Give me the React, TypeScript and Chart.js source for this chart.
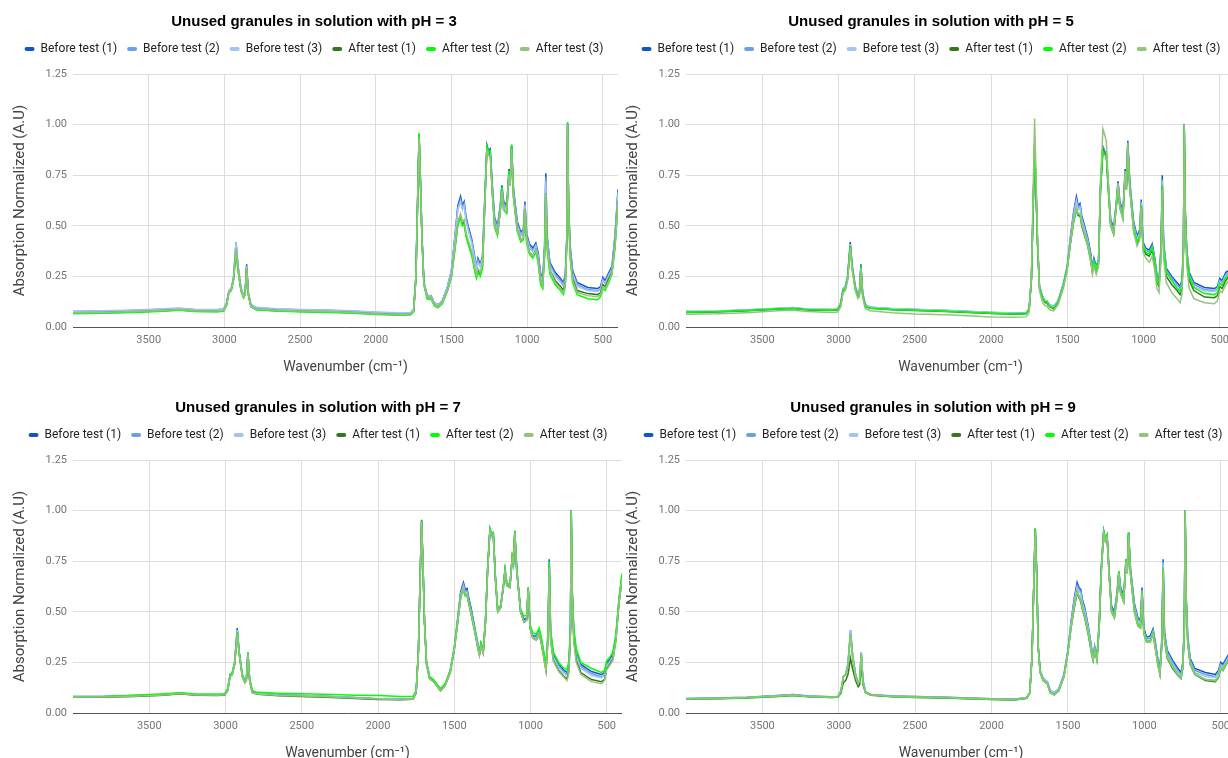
import React, { useEffect, useRef } from 'react';
import { Chart, registerables } from 'chart.js';

Chart.register(...registerables);

// Wavenumber grid (cm-1) shared by every spectrum
const wavenumbers = [
  4000, 3800, 3600, 3400, 3300, 3200, 3050, 3005, 2985, 2970,
  2955, 2940, 2923, 2910, 2890, 2873, 2863, 2853, 2842, 2825,
  2790, 2650, 2500, 2300, 2150, 2000, 1850, 1770, 1750, 1735,
  1724, 1714, 1704, 1695, 1682, 1662, 1645, 1635, 1615, 1590,
  1560, 1526, 1500, 1480, 1458, 1440, 1428, 1416, 1405, 1390,
  1365, 1345, 1335, 1325, 1310, 1295, 1282, 1266, 1255, 1244,
  1230, 1215, 1196, 1178, 1167, 1155, 1135, 1120, 1112, 1103,
  1090, 1065, 1042, 1025, 1015, 1003, 985, 962, 943, 928,
  912, 898, 885, 877, 868, 850, 815, 780, 760, 748,
  738, 733, 726, 716, 700, 670, 600, 535, 515, 500,
  485, 460, 440, 420, 400,
];

const seriesLabels = ['Before test (1)', 'Before test (2)', 'Before test (3)', 'After test (1)', 'After test (2)', 'After test (3)'];
const seriesColors = ['#1155cc', '#6d9eeb', '#a4c2f4', '#38761d', '#00ff00', '#93c47d'];
const xTickValues = [3500, 3000, 2500, 2000, 1500, 1000, 500];
const yTickValues = [0, 0.25, 0.5, 0.75, 1.0, 1.25];
const panelTitles = [
  'Unused granules in solution with pH = 3',
  'Unused granules in solution with pH = 5',
  'Unused granules in solution with pH = 7',
  'Unused granules in solution with pH = 9',
];

// ---------- pH = 3 ----------
const ph3Before1 = [
  .076, .078, .082, .088, .092, .086, .085, .088, .12, .18,
  .19, .24, .42, .30, .19, .155, .17, .31, .17, .11,
  .095, .088, .085, .082, .078, .072, .068, .07, .085, .25,
  .62, .95, .70, .45, .22, .16, .15, .155, .12, .11,
  .13, .20, .28, .43, .60, .645, .60, .62, .55, .50,
  .43, .34, .30, .34, .31, .35, .60, .90, .87, .88,
  .70, .54, .50, .60, .70, .62, .60, .78, .73, .90,
  .68, .52, .47, .48, .62, .46, .41, .39, .415, .37,
  .27, .23, .40, .76, .45, .32, .27, .24, .22, .26,
  .45, 1.01, .60, .40, .28, .22, .195, .19, .20, .245,
  .23, .27, .30, .45, .68,
];
const ph3Before2 = [
  .074, .076, .080, .086, .090, .084, .083, .086, .12, .18,
  .19, .24, .41, .30, .19, .155, .17, .30, .17, .11,
  .093, .086, .083, .080, .076, .070, .066, .068, .083, .25,
  .62, .95, .70, .45, .22, .16, .15, .15, .12, .11,
  .13, .20, .28, .42, .59, .63, .59, .61, .54, .49,
  .42, .33, .30, .33, .30, .34, .59, .89, .87, .87,
  .69, .53, .49, .59, .69, .61, .59, .77, .72, .89,
  .67, .51, .46, .47, .61, .45, .40, .38, .405, .36,
  .26, .22, .39, .74, .44, .31, .26, .23, .21, .25,
  .44, 1.0, .59, .39, .27, .21, .185, .18, .19, .235,
  .22, .26, .29, .44, .67,
];
const ph3Before3 = [
  .078, .080, .084, .090, .094, .088, .087, .090, .12, .18,
  .19, .24, .42, .30, .19, .16, .17, .30, .17, .11,
  .097, .090, .087, .084, .080, .074, .070, .072, .087, .25,
  .61, .94, .69, .45, .22, .16, .15, .155, .12, .11,
  .13, .20, .28, .42, .58, .62, .58, .60, .53, .48,
  .41, .33, .29, .32, .30, .34, .58, .88, .86, .86,
  .68, .52, .48, .58, .68, .60, .58, .76, .71, .88,
  .66, .50, .45, .46, .60, .44, .39, .37, .40, .35,
  .25, .21, .38, .72, .43, .30, .25, .22, .20, .24,
  .43, 1.0, .58, .38, .26, .20, .18, .175, .185, .23,
  .215, .255, .285, .43, .66,
];
const ph3After1 = [
  .068, .070, .074, .080, .085, .078, .077, .080, .11, .17,
  .18, .23, .38, .28, .18, .145, .16, .29, .16, .10,
  .087, .080, .077, .074, .070, .064, .060, .062, .077, .24,
  .60, .95, .69, .44, .21, .15, .14, .145, .11, .10,
  .12, .18, .25, .37, .51, .55, .51, .52, .46, .42,
  .36, .28, .25, .28, .26, .30, .56, .88, .85, .86,
  .66, .50, .46, .57, .68, .58, .57, .76, .70, .89,
  .64, .48, .43, .44, .58, .42, .37, .35, .38, .33,
  .23, .20, .36, .66, .40, .28, .23, .20, .18, .22,
  .42, 1.0, .57, .36, .24, .18, .165, .16, .17, .21,
  .20, .24, .27, .40, .62,
];
const ph3After2 = [
  .066, .068, .072, .078, .083, .076, .075, .078, .11, .17,
  .18, .23, .38, .28, .175, .145, .16, .29, .16, .10,
  .085, .078, .075, .072, .068, .062, .058, .060, .075, .24,
  .61, .96, .70, .44, .21, .14, .135, .14, .105, .095,
  .115, .18, .25, .37, .50, .54, .50, .51, .45, .41,
  .35, .27, .24, .27, .25, .29, .56, .89, .86, .87,
  .66, .49, .45, .57, .69, .58, .56, .77, .70, .90,
  .64, .47, .42, .43, .58, .41, .36, .34, .37, .32,
  .21, .19, .35, .65, .38, .26, .21, .18, .16, .20,
  .42, 1.01, .56, .34, .22, .16, .14, .135, .15, .19,
  .18, .22, .26, .39, .61,
];
const ph3After3 = [
  .070, .072, .076, .082, .087, .080, .079, .082, .11, .17,
  .18, .23, .39, .29, .18, .15, .16, .29, .16, .10,
  .089, .082, .079, .076, .072, .066, .062, .064, .079, .24,
  .60, .94, .69, .44, .21, .15, .14, .145, .11, .10,
  .12, .18, .25, .38, .52, .56, .52, .53, .47, .43,
  .37, .29, .26, .29, .27, .31, .57, .87, .85, .85,
  .66, .50, .46, .57, .67, .58, .57, .75, .70, .88,
  .64, .48, .43, .44, .58, .42, .37, .35, .38, .33,
  .23, .20, .36, .66, .40, .28, .22, .19, .17, .21,
  .42, 1.0, .57, .35, .23, .17, .155, .15, .16, .20,
  .19, .23, .265, .40, .62,
];

// ---------- pH = 5 ----------
const ph5Before1 = [
  .076, .078, .084, .092, .095, .088, .086, .088, .12, .19,
  .20, .25, .42, .30, .20, .16, .17, .31, .17, .11,
  .097, .090, .087, .082, .077, .072, .068, .070, .09, .24,
  .58, .89, .66, .42, .20, .15, .13, .13, .11, .10,
  .13, .21, .30, .44, .57, .645, .60, .61, .55, .51,
  .44, .36, .29, .34, .30, .33, .70, .89, .87, .86,
  .70, .53, .49, .62, .72, .62, .57, .78, .70, .92,
  .72, .52, .45, .48, .63, .42, .39, .38, .41, .35,
  .26, .23, .40, .75, .42, .29, .25, .22, .20, .23,
  .40, 1.0, .58, .38, .27, .22, .195, .19, .20, .24,
  .23, .27, .28, .40, .60,
];
const ph5Before2 = [
  .074, .076, .082, .090, .093, .086, .084, .086, .12, .19,
  .20, .25, .41, .30, .20, .16, .17, .30, .17, .11,
  .095, .088, .085, .080, .075, .070, .066, .068, .088, .24,
  .58, .90, .66, .42, .20, .15, .13, .13, .11, .10,
  .13, .21, .30, .43, .56, .63, .59, .60, .54, .50,
  .43, .35, .29, .33, .29, .33, .69, .89, .87, .86,
  .69, .52, .48, .61, .71, .61, .56, .77, .70, .91,
  .71, .51, .44, .47, .62, .41, .38, .37, .40, .34,
  .25, .22, .39, .73, .41, .28, .24, .21, .19, .22,
  .39, 1.0, .57, .37, .26, .21, .185, .18, .19, .23,
  .22, .26, .27, .39, .59,
];
const ph5Before3 = [
  .077, .079, .085, .093, .096, .089, .087, .089, .12, .19,
  .20, .25, .41, .30, .20, .16, .17, .30, .17, .11,
  .098, .091, .088, .083, .078, .073, .069, .071, .09, .24,
  .57, .88, .65, .42, .20, .15, .13, .13, .11, .10,
  .13, .21, .30, .43, .55, .62, .58, .59, .53, .49,
  .42, .34, .28, .32, .29, .32, .68, .88, .86, .85,
  .68, .51, .47, .60, .70, .60, .55, .76, .69, .90,
  .70, .50, .43, .46, .61, .40, .37, .36, .39, .33,
  .24, .21, .38, .72, .40, .27, .23, .20, .18, .21,
  .38, 1.0, .56, .36, .25, .20, .178, .175, .185, .225,
  .215, .255, .265, .38, .58,
];
const ph5After1 = [
  .072, .074, .080, .088, .091, .084, .082, .084, .11, .18,
  .19, .24, .40, .29, .19, .15, .16, .30, .16, .10,
  .092, .085, .082, .077, .072, .067, .063, .065, .085, .23,
  .58, .90, .66, .41, .19, .14, .12, .12, .10, .09,
  .12, .20, .29, .41, .52, .58, .55, .55, .50, .46,
  .40, .32, .27, .31, .27, .31, .68, .88, .86, .85,
  .67, .50, .46, .60, .70, .59, .54, .76, .68, .90,
  .69, .48, .41, .44, .60, .39, .36, .35, .38, .32,
  .22, .20, .36, .69, .37, .25, .21, .18, .16, .19,
  .37, 1.0, .55, .34, .23, .18, .148, .145, .155, .20,
  .19, .23, .25, .36, .56,
];
const ph5After2 = [
  .073, .075, .081, .089, .092, .085, .083, .085, .11, .18,
  .19, .24, .40, .29, .19, .15, .16, .30, .16, .10,
  .093, .086, .083, .078, .073, .068, .064, .066, .086, .24,
  .59, .90, .66, .41, .19, .14, .125, .125, .10, .095,
  .12, .20, .29, .41, .52, .58, .56, .56, .51, .47,
  .41, .33, .28, .32, .28, .32, .68, .87, .85, .85,
  .67, .50, .46, .60, .69, .59, .54, .76, .68, .89,
  .69, .49, .42, .45, .60, .40, .37, .36, .39, .33,
  .23, .21, .37, .70, .39, .27, .23, .19, .175, .205,
  .38, 1.0, .56, .36, .25, .195, .165, .16, .17, .215,
  .205, .245, .26, .37, .57,
];
const ph5After3 = [
  .063, .065, .071, .080, .083, .076, .072, .074, .10, .17,
  .18, .23, .39, .28, .18, .14, .15, .29, .15, .09,
  .080, .070, .064, .060, .056, .050, .048, .050, .07, .25,
  .66, 1.03, .74, .44, .18, .12, .105, .105, .085, .08,
  .11, .19, .28, .41, .53, .59, .56, .56, .51, .47,
  .40, .32, .26, .30, .26, .30, .72, .98, .95, .92,
  .70, .50, .46, .61, .71, .59, .53, .77, .68, .91,
  .68, .47, .40, .43, .59, .37, .34, .32, .35, .29,
  .19, .17, .33, .68, .34, .22, .17, .14, .12, .16,
  .36, 1.0, .52, .30, .19, .14, .12, .115, .13, .18,
  .17, .21, .23, .34, .54,
];

// ---------- pH = 7 ----------
const ph7Before1 = [
  .082, .082, .086, .092, .099, .092, .091, .093, .12, .19,
  .20, .25, .42, .30, .19, .155, .17, .30, .17, .11,
  .098, .090, .087, .082, .076, .071, .069, .072, .10, .30,
  .66, .95, .70, .45, .25, .18, .165, .16, .14, .115,
  .14, .21, .32, .45, .60, .645, .61, .615, .57, .52,
  .42, .34, .30, .345, .31, .46, .70, .91, .88, .89,
  .67, .51, .53, .63, .71, .64, .63, .77, .74, .90,
  .71, .51, .46, .47, .62, .43, .38, .38, .41, .36,
  .29, .23, .40, .76, .40, .29, .24, .21, .20, .24,
  .42, 1.0, .60, .40, .30, .24, .205, .19, .20, .25,
  .26, .29, .38, .56, .68,
];
const ph7Before2 = [
  .080, .080, .084, .090, .097, .090, .089, .091, .12, .19,
  .20, .25, .41, .30, .19, .155, .17, .30, .17, .11,
  .096, .088, .085, .080, .074, .069, .067, .070, .10, .30,
  .66, .95, .70, .45, .25, .18, .165, .16, .14, .115,
  .14, .21, .32, .45, .59, .635, .60, .605, .56, .51,
  .41, .33, .295, .34, .305, .46, .70, .91, .88, .89,
  .67, .51, .52, .62, .70, .63, .62, .76, .73, .89,
  .70, .50, .45, .46, .61, .42, .37, .37, .40, .35,
  .28, .22, .39, .75, .39, .28, .23, .20, .19, .23,
  .41, 1.0, .59, .39, .29, .23, .195, .18, .19, .24,
  .25, .28, .37, .55, .67,
];
const ph7Before3 = [
  .081, .081, .085, .091, .098, .091, .090, .092, .12, .19,
  .20, .25, .41, .30, .19, .155, .17, .30, .17, .11,
  .097, .089, .086, .081, .075, .070, .068, .071, .10, .30,
  .65, .94, .70, .45, .25, .18, .165, .16, .14, .115,
  .14, .21, .32, .44, .58, .625, .59, .595, .55, .50,
  .41, .33, .29, .335, .30, .45, .69, .90, .87, .88,
  .66, .50, .52, .62, .70, .63, .62, .76, .73, .89,
  .70, .50, .45, .46, .61, .42, .37, .37, .40, .35,
  .28, .22, .39, .74, .38, .275, .225, .195, .185, .225,
  .40, 1.0, .58, .38, .28, .22, .185, .175, .185, .235,
  .245, .275, .365, .55, .67,
];
const ph7After1 = [
  .078, .078, .082, .088, .095, .088, .087, .089, .11, .18,
  .19, .24, .39, .29, .18, .15, .16, .29, .16, .10,
  .092, .085, .082, .077, .072, .067, .065, .068, .10, .31,
  .67, .955, .70, .45, .24, .17, .16, .155, .135, .11,
  .135, .20, .31, .43, .57, .61, .58, .58, .54, .49,
  .40, .32, .285, .33, .295, .45, .69, .90, .88, .88,
  .66, .50, .52, .62, .70, .63, .62, .77, .73, .89,
  .70, .50, .45, .46, .61, .42, .37, .36, .39, .34,
  .27, .21, .37, .73, .36, .26, .21, .18, .17, .21,
  .40, 1.0, .57, .36, .26, .20, .165, .155, .165, .22,
  .235, .265, .36, .54, .66,
];
const ph7After2 = [
  .080, .082, .088, .095, .100, .094, .093, .095, .12, .19,
  .20, .25, .40, .30, .19, .16, .17, .30, .17, .11,
  .102, .097, .095, .092, .088, .086, .081, .083, .11, .30,
  .65, .94, .70, .45, .25, .18, .17, .165, .145, .12,
  .145, .21, .32, .44, .57, .61, .58, .585, .545, .50,
  .41, .33, .30, .345, .31, .46, .70, .91, .89, .89,
  .67, .51, .53, .63, .71, .64, .63, .77, .74, .90,
  .71, .51, .48, .48, .62, .44, .395, .39, .42, .37,
  .30, .24, .40, .745, .41, .30, .25, .22, .215, .26,
  .44, 1.0, .61, .42, .32, .25, .22, .20, .21, .26,
  .27, .30, .39, .56, .69,
];
const ph7After3 = [
  .079, .079, .083, .089, .096, .089, .088, .090, .11, .18,
  .19, .24, .39, .29, .18, .15, .16, .29, .16, .10,
  .094, .087, .084, .079, .074, .069, .066, .069, .10, .30,
  .66, .95, .70, .45, .24, .17, .16, .155, .135, .11,
  .135, .20, .31, .43, .57, .615, .585, .585, .545, .495,
  .40, .32, .285, .33, .295, .45, .69, .90, .88, .88,
  .66, .50, .52, .62, .70, .63, .62, .77, .73, .89,
  .70, .50, .45, .46, .61, .42, .37, .36, .39, .34,
  .265, .205, .365, .72, .355, .255, .205, .175, .16, .20,
  .40, 1.0, .56, .35, .25, .19, .155, .145, .16, .215,
  .23, .26, .355, .54, .66,
];

// ---------- pH = 9 ----------
const ph9Before1 = [
  .072, .074, .078, .086, .091, .084, .080, .082, .11, .18,
  .19, .24, .41, .29, .19, .15, .165, .30, .16, .105,
  .092, .084, .081, .078, .074, .071, .068, .076, .10, .28,
  .62, .91, .68, .33, .21, .17, .16, .155, .11, .10,
  .12, .19, .31, .45, .57, .645, .62, .61, .56, .52,
  .42, .32, .28, .33, .28, .45, .72, .90, .86, .88,
  .69, .53, .50, .60, .70, .62, .58, .76, .71, .89,
  .71, .54, .47, .46, .62, .42, .375, .38, .415, .35,
  .27, .22, .37, .76, .40, .31, .26, .22, .20, .25,
  .45, 1.0, .58, .38, .27, .22, .20, .19, .21, .25,
  .24, .275, .30, .45, .62,
];
const ph9Before2 = [
  .070, .072, .076, .084, .089, .082, .078, .080, .11, .18,
  .19, .24, .40, .29, .19, .15, .165, .30, .16, .105,
  .090, .082, .079, .076, .072, .069, .066, .074, .10, .28,
  .62, .91, .68, .33, .21, .17, .16, .155, .11, .10,
  .12, .19, .31, .44, .56, .63, .61, .60, .55, .51,
  .41, .31, .275, .325, .275, .45, .71, .90, .86, .88,
  .69, .52, .49, .59, .70, .61, .57, .76, .70, .89,
  .70, .53, .46, .45, .61, .41, .365, .37, .405, .34,
  .26, .21, .36, .75, .39, .30, .25, .21, .19, .24,
  .44, 1.0, .57, .37, .26, .21, .19, .18, .20, .24,
  .23, .265, .29, .44, .61,
];
const ph9Before3 = [
  .071, .073, .077, .085, .090, .083, .079, .081, .11, .18,
  .19, .24, .41, .29, .19, .15, .165, .30, .16, .105,
  .091, .083, .080, .077, .073, .070, .067, .075, .10, .28,
  .61, .90, .67, .33, .21, .17, .16, .155, .11, .10,
  .12, .19, .31, .44, .55, .62, .60, .59, .54, .50,
  .41, .31, .27, .32, .27, .44, .70, .89, .85, .87,
  .68, .51, .48, .58, .69, .60, .56, .75, .69, .88,
  .69, .52, .45, .44, .60, .40, .36, .36, .40, .335,
  .255, .205, .355, .74, .38, .29, .24, .20, .185, .235,
  .43, 1.0, .56, .36, .25, .20, .18, .175, .195, .235,
  .225, .26, .285, .43, .60,
];
const ph9After1 = [
  .068, .070, .074, .082, .087, .080, .076, .078, .10, .15,
  .16, .19, .27, .22, .16, .13, .14, .24, .14, .10,
  .088, .080, .077, .074, .070, .067, .064, .072, .10, .28,
  .62, .91, .68, .33, .20, .16, .15, .145, .10, .09,
  .11, .18, .30, .42, .52, .595, .57, .55, .51, .47,
  .38, .29, .26, .31, .26, .43, .70, .89, .85, .87,
  .68, .50, .47, .57, .69, .59, .55, .75, .69, .89,
  .68, .50, .43, .42, .59, .39, .35, .35, .39, .32,
  .24, .19, .34, .71, .36, .27, .22, .185, .17, .22,
  .42, 1.0, .55, .35, .24, .19, .16, .155, .175, .22,
  .21, .245, .27, .42, .59,
];
const ph9After2 = [
  .069, .071, .075, .083, .088, .081, .077, .079, .11, .18,
  .19, .23, .39, .28, .18, .145, .16, .29, .155, .10,
  .089, .081, .078, .075, .071, .068, .065, .073, .10, .28,
  .62, .91, .68, .33, .20, .16, .15, .145, .10, .09,
  .11, .18, .30, .42, .53, .60, .58, .56, .52, .48,
  .39, .30, .265, .315, .265, .44, .70, .90, .86, .88,
  .68, .51, .48, .58, .70, .60, .56, .76, .70, .89,
  .69, .51, .44, .43, .60, .40, .355, .355, .395, .325,
  .245, .195, .345, .72, .37, .28, .23, .19, .175, .225,
  .42, 1.0, .55, .35, .245, .195, .165, .16, .18, .225,
  .215, .25, .275, .42, .59,
];
const ph9After3 = [
  .070, .072, .076, .084, .089, .082, .078, .080, .11, .18,
  .19, .23, .39, .28, .18, .145, .16, .29, .155, .10,
  .090, .082, .079, .076, .072, .069, .066, .074, .10, .28,
  .61, .90, .67, .33, .20, .16, .15, .145, .10, .09,
  .11, .18, .30, .42, .53, .60, .575, .555, .515, .475,
  .385, .295, .26, .31, .26, .43, .69, .89, .85, .87,
  .67, .50, .47, .57, .69, .59, .55, .75, .69, .88,
  .68, .50, .43, .42, .59, .39, .35, .35, .39, .32,
  .24, .19, .34, .71, .365, .275, .225, .188, .172, .222,
  .42, 1.0, .55, .35, .242, .192, .165, .16, .178, .222,
  .212, .248, .272, .42, .59,
];

const panelSeries = [
  [ph3Before1, ph3Before2, ph3Before3, ph3After1, ph3After2, ph3After3],
  [ph5Before1, ph5Before2, ph5Before3, ph5After1, ph5After2, ph5After3],
  [ph7Before1, ph7Before2, ph7Before3, ph7After1, ph7After2, ph7After3],
  [ph9Before1, ph9Before2, ph9Before3, ph9After1, ph9After2, ph9After3],
];

const TITLE_FONT = "'Liberation Sans', Arial, sans-serif";
const TEXT_FONT = "Roboto, 'Liberation Sans', Arial, sans-serif";

const legendSpacer = {
  id: 'legendSpacer',
  beforeInit(chart: any) {
    const legend = chart.legend;
    if (!legend) return;
    const orig = legend.fit;
    legend.fit = function () {
      orig.call(this);
      this.height += 9;
    };
  },
};

type PanelProps = {
  title: string;
  series: number[][];
  left: number;
  top: number;
  width: number;
  height: number;
  padRight: number;
};

function Panel({ title, series, left, top, width, height, padRight }: PanelProps) {
  const ref = useRef<HTMLCanvasElement>(null);
  useEffect(() => {
    const canvas = ref.current;
    if (!canvas) return;
    const datasets = seriesLabels.map((label, i) => ({
      label,
      data: wavenumbers.map((w, j) => ({ x: w, y: series[i][j] })),
      borderColor: seriesColors[i],
      backgroundColor: seriesColors[i],
      borderWidth: 1.5,
      pointRadius: 0,
      pointHoverRadius: 0,
      tension: 0,
      fill: false,
      order: seriesLabels.length - 1 - i,
    }));
    const chart = new Chart(canvas, {
      type: 'line',
      data: { datasets },
      options: {
        responsive: false,
        animation: false,
        events: [],
        layout: { padding: 0 },
        plugins: {
          title: {
            display: true,
            text: title,
            color: '#000',
            font: { family: TITLE_FONT, size: 15, weight: 'bold' },
            padding: { top: 13, bottom: 2 },
          },
          legend: {
            display: true,
            position: 'top',
            align: 'center',
            labels: {
              font: { family: TEXT_FONT, size: 12 },
              color: '#222',
              boxWidth: 10,
              boxHeight: 4,
              padding: 10,
              useBorderRadius: true,
              borderRadius: 2,
              sort: (a: any, b: any) => a.datasetIndex - b.datasetIndex,
              generateLabels: (c: any) =>
                (Chart.defaults.plugins.legend.labels as any).generateLabels(c).map((l: any) => ({ ...l, lineWidth: 0 })),
            },
          },
          tooltip: { enabled: false },
        },
        scales: {
          x: {
            type: 'linear',
            min: 400,
            max: 4000,
            reverse: true,
            afterBuildTicks: (s: any) => {
              s.ticks = xTickValues.map((v) => ({ value: v }));
            },
            afterFit: (s: any) => {
              s.height = 59;
            },
            grid: { color: '#dddddd', drawTicks: false },
            border: { display: false },
            ticks: {
              color: '#757575',
              font: { family: TEXT_FONT, size: 11 },
              padding: 7,
              maxRotation: 0,
              autoSkip: false,
              callback: (v: any) => String(v),
            },
            title: {
              display: true,
              text: 'Wavenumber (cm\u207B\u00B9)',
              color: '#444',
              font: { family: TEXT_FONT, size: 14 },
              padding: { top: 0, bottom: 10 },
            },
          },
          y: {
            type: 'linear',
            min: 0,
            max: 1.25,
            afterBuildTicks: (s: any) => {
              s.ticks = yTickValues.map((v) => ({ value: v }));
            },
            afterFit: (s: any) => {
              s.width = 73;
            },
            grid: {
              color: (ctx: any) => (ctx.tick && ctx.tick.value === 0 ? '#555555' : '#dddddd'),
              drawTicks: false,
            },
            border: { display: false },
            ticks: {
              color: '#757575',
              font: { family: TEXT_FONT, size: 11 },
              padding: 6,
              callback: (v: any) => Number(v).toFixed(2),
            },
            title: {
              display: true,
              text: 'Absorption Normalized (A.U)',
              color: '#444',
              font: { family: TEXT_FONT, size: 15 },
              padding: { top: 11, bottom: 0 },
            },
          },
          yRight: {
            type: 'linear',
            position: 'right',
            display: true,
            grid: { display: false },
            border: { display: false },
            ticks: { display: false },
            afterFit: (s: any) => {
              s.width = padRight;
            },
          },
        },
      } as any,
      plugins: [legendSpacer],
    });
    return () => chart.destroy();
  }, [title, series, width, height, padRight]);
  return (
    <canvas
      ref={ref}
      width={width}
      height={height}
      style={{ position: 'absolute', left, top, width, height, display: 'block' }}
    />
  );
}

const panelLayout = [
  { left: 0, top: 0, width: 628, height: 386, padRight: 10 },
  { left: 613, top: 0, width: 636, height: 386, padRight: 14 },
  { left: 0, top: 386, width: 636, height: 386, padRight: 14 },
  { left: 613, top: 386, width: 640, height: 386, padRight: 17 },
];

export default function App() {
  return (
    <div style={{ position: 'fixed', left: 0, top: 0, width: '100vw', height: '100vh', overflow: 'hidden', background: '#fff' }}>
      {panelLayout.map((p, i) => (
        <Panel key={i} title={panelTitles[i]} series={panelSeries[i]} {...p} />
      ))}
    </div>
  );
}
